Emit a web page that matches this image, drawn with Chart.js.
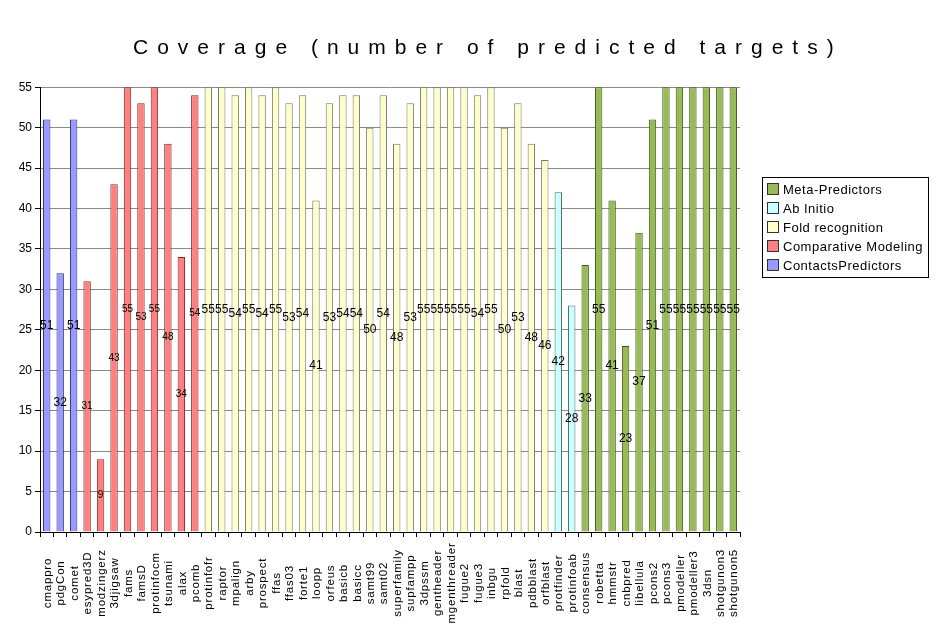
<!DOCTYPE html>
<html>
<head>
<meta charset="utf-8">
<script src="https://cdn.jsdelivr.net/npm/chart.js@4.4.0/dist/chart.umd.min.js"></script>
<style>
html,body{margin:0;padding:0;background:#fff}
#wrap{width:950px;height:639px;position:relative;background:#fff}
</style>
</head>
<body>
<div id="wrap"><canvas id="c"></canvas></div>
<script>
// ---------- DATA ----------
const chartTitle = 'Coverage (number of predicted targets)';

const contactsNames  = ['cmappro','pdgCon','comet'];
const contactsValues = [51,32,51];

const comparativeNames  = ['esypred3D','modzingerz','3djigsaw','fams','famsD','protinfocm','tsunami','alax','pcomb'];
const comparativeValues = [31,9,43,55,53,55,48,34,54];

const foldNames  = ['protinfofr','raptor','mpalign','arby','prospect','ffas','ffas03','forte1','loopp','orfeus',
                    'basicb','basicc','samt99','samt02','superfamily','supfampp','3dpssm','gentheader','mgenthreader',
                    'fugue2','fugue3','inbgu','rpfold','blast','pdbblast','orfblast'];
const foldValues = [55,55,54,55,54,55,53,54,41,53,54,54,50,54,48,53,55,55,55,55,54,55,50,53,48,46];

const abInitioNames  = ['protfinder','protinfoab'];
const abInitioValues = [42,28];

const metaNames  = ['consensus','robetta','hmmstr','cnbpred','libellula','pcons2','pcons3','pmodeller',
                    'pmodeller3','3dsn','shotgunon3','shotgunon5'];
const metaValues = [33,55,41,23,37,51,55,55,55,55,55,55];

const seriesNames = ['ContactsPredictors','Comparative Modeling','Fold recognition','Ab Initio','Meta-Predictors'];
const yTickValues = [0,5,10,15,20,25,30,35,40,45,50,55];

// ---------- BUILD ----------
const groups = [
  {names: contactsNames, values: contactsValues, fill:'#9999ff', border:'#30307a', lf:12},
  {names: comparativeNames, values: comparativeValues, fill:'#ff8080', border:'#7a2a2a', lf:10},
  {names: foldNames, values: foldValues, fill:'#ffffcc', border:'#77776a', lf:12},
  {names: abInitioNames, values: abInitioValues, fill:'#ccffff', border:'#4d6b6b', lf:12},
  {names: metaNames, values: metaValues, fill:'#99bb55', border:'#3d5520', lf:12}
];
const categories = [].concat(...groups.map(g => g.names));
let offset = 0;
const datasets = groups.map((g, gi) => {
  const data = new Array(categories.length).fill(null);
  g.values.forEach((v, i) => { data[offset + i] = v; });
  offset += g.values.length;
  return {
    label: seriesNames[gi], data,
    backgroundColor: g.fill, borderColor: g.border, borderWidth: 1,
    barPercentage: 0.55, categoryPercentage: 1.0, grouped: false,
    labelFont: g.lf
  };
});

const FONT = "'Liberation Sans', Arial, sans-serif";
Chart.defaults.font.family = FONT;
Chart.defaults.color = '#000';

const titleSpacing = {
  id: 'titleSpacing',
  afterLayout(chart) {
    const tb = chart.titleBlock;
    if (tb && !tb._patched) {
      const orig = tb.draw.bind(tb);
      tb.draw = function () {
        const ctx = this.ctx;
        ctx.save();
        ctx.letterSpacing = '9px';
        ctx.translate(133, 0);
        orig();
        ctx.restore();
      };
      tb._patched = true;
    }
  }
};

const valueLabels = {
  id: 'valueLabels',
  afterDatasetsDraw(chart) {
    const ctx = chart.ctx;
    ctx.save();
    ctx.fillStyle = '#000';
    ctx.textAlign = 'center';
    ctx.textBaseline = 'middle';
    chart.data.datasets.forEach((ds, di) => {
      const meta = chart.getDatasetMeta(di);
      ctx.font = ds.labelFont + 'px ' + FONT;
      meta.data.forEach((el, i) => {
        const v = ds.data[i];
        if (v === null || v === undefined) return;
        ctx.fillText(String(v), el.x, (el.y + el.base) / 2);
      });
    });
    ctx.restore();
  }
};

const xLabels = {
  id: 'xLabels',
  afterDraw(chart) {
    const ctx = chart.ctx;
    const xs = chart.scales.x;
    ctx.save();
    ctx.fillStyle = '#000';
    ctx.font = '11.5px ' + FONT;
    try { ctx.letterSpacing = '0.8px'; } catch (e) {}
    ctx.textAlign = 'center';
    ctx.textBaseline = 'middle';
    chart.data.labels.forEach((lab, i) => {
      const x = xs.getPixelForValue(i);
      ctx.save();
      ctx.translate(x + 1, 583);
      ctx.rotate(-Math.PI / 2);
      ctx.fillText(lab, 0, 0);
      ctx.restore();
    });
    ctx.restore();
  }
};

const boxLegend = {
  id: 'boxLegend',
  afterDraw(chart) {
    const ctx = chart.ctx;
    const bx = 762, by = 177, bw = 166, bh = 100;
    ctx.save();
    ctx.fillStyle = '#fff';
    ctx.fillRect(bx, by, bw, bh);
    ctx.strokeStyle = '#000';
    ctx.lineWidth = 1;
    ctx.strokeRect(bx + 0.5, by + 0.5, bw, bh);
    const ds = chart.data.datasets.slice().reverse();
    ctx.font = '13px ' + FONT;
    try { ctx.letterSpacing = '0.5px'; } catch (e) {}
    ctx.textBaseline = 'middle';
    ctx.textAlign = 'left';
    ds.forEach((d, i) => {
      const cy = by + 12 + i * 19;
      ctx.fillStyle = d.backgroundColor;
      ctx.fillRect(bx + 5, cy - 6, 12, 12);
      ctx.strokeStyle = '#333';
      ctx.strokeRect(bx + 5.5, cy - 5.5, 11, 11);
      ctx.fillStyle = '#000';
      ctx.fillText(d.label, bx + 21, cy + 1);
    });
    ctx.restore();
  }
};

new Chart(document.getElementById('c'), {
  type: 'bar',
  data: { labels: categories, datasets },
  options: {
    responsive: true,
    maintainAspectRatio: false,
    animation: false,
    layout: { padding: { left: 0, right: 210, top: 0, bottom: 7 } },
    plugins: {
      legend: { display: false },
      tooltip: { enabled: false },
      title: {
        display: true, text: chartTitle, color: '#000', align: 'start',
        font: { size: 21, weight: 'normal', family: FONT },
        padding: { top: 36, bottom: 26 }
      }
    },
    scales: {
      x: {
        type: 'category',
        offset: true,
        grid: { drawOnChartArea: false, drawTicks: true, tickLength: 5, tickColor: '#000', offset: true },
        border: { color: '#000', width: 1 },
        ticks: { display: false },
        afterFit(s) { s.height = 100; }
      },
      y: {
        min: 0, max: 55,
        afterBuildTicks(s) { s.ticks = yTickValues.map(v => ({ value: v })); },
        grid: { color: '#8a8a8a', tickColor: '#000', tickLength: 5, lineWidth: 1 },
        border: { color: '#000', width: 1 },
        ticks: { font: { size: 12 }, color: '#000', padding: 3 },
        afterFit(s) { s.width = 40; }
      }
    }
  },
  plugins: [titleSpacing, valueLabels, xLabels, boxLegend]
});
</script>
</body>
</html>
